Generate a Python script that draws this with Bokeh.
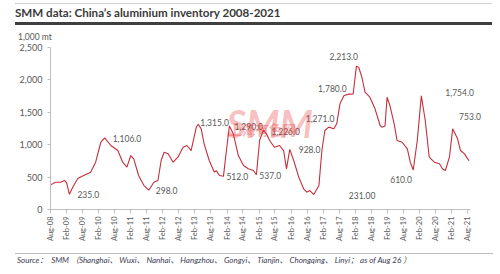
import pandas as pd
from bokeh.plotting import figure
from bokeh.models import (ColumnDataSource, Range1d, FixedTicker, NumeralTickFormatter,
                          Label, Div)
from bokeh.layouts import column
from bokeh.core.properties import value
from bokeh.embed import file_html
from bokeh.resources import INLINE

# China aluminium social inventory, 1,000 mt
dates = ["2008-08-01", "2008-09-28", "2008-11-25", "2009-01-10", "2009-02-01", "2009-03-04",
         "2009-04-10", "2009-06-07", "2009-08-13", "2009-11-01", "2009-12-28", "2010-02-25",
         "2010-04-10", "2010-06-19", "2010-09-07", "2010-11-01", "2010-12-19", "2011-02-01",
         "2011-03-07", "2011-05-01", "2011-07-01", "2011-08-25", "2011-10-22", "2011-12-07",
         "2012-01-13", "2012-02-16", "2012-04-01", "2012-05-28", "2012-07-22", "2012-09-19",
         "2012-11-01", "2012-12-19", "2013-02-16", "2013-03-10", "2013-04-13", "2013-05-16",
         "2013-07-13", "2013-09-10", "2013-10-01", "2013-11-07", "2013-12-22", "2014-01-25",
         "2014-02-28", "2014-04-13", "2014-06-10", "2014-08-07", "2014-10-01", "2014-11-28",
         "2015-01-01", "2015-02-07", "2015-03-22", "2015-04-25", "2015-06-01", "2015-07-25",
         "2015-09-22", "2015-11-07", "2015-12-10", "2016-01-16", "2016-03-01", "2016-04-28",
         "2016-06-22", "2016-07-28", "2016-09-01", "2016-10-16", "2016-12-13", "2017-01-16",
         "2017-02-19", "2017-04-04", "2017-06-01", "2017-07-04", "2017-08-10", "2017-09-25",
         "2017-11-22", "2018-01-07", "2018-02-13", "2018-03-13", "2018-04-16", "2018-05-22",
         "2018-07-16", "2018-09-13", "2018-11-10", "2018-12-01", "2019-01-05", "2019-01-28",
         "2019-03-01", "2019-04-19", "2019-05-22", "2019-07-19", "2019-09-16", "2019-10-19",
         "2019-11-22", "2020-01-07", "2020-02-22", "2020-04-07", "2020-05-22", "2020-07-19",
         "2020-09-16", "2020-10-19", "2020-11-22", "2021-01-07", "2021-02-13", "2021-04-10",
         "2021-05-13", "2021-06-28", "2021-07-25", "2021-08-19"]
inventory = [380, 420, 420, 447, 410, 235,
             340, 478, 525, 576, 730, 1038,
             1106, 988, 910, 730, 653, 833,
             782, 525, 370, 298, 421, 447,
             756, 884, 859, 730, 807, 961,
             988, 910, 1270, 1315, 1245, 1013,
             756, 576, 600, 525, 512, 910,
             1290, 1168, 833, 679, 628, 602,
             537, 1065, 1226, 1168, 1065, 961,
             988, 910, 628, 928, 756, 499,
             319, 267, 293, 231, 370, 910,
             1219, 1271, 1245, 1322, 1631, 1759,
             1780, 1785, 2213, 2190, 2041, 1810,
             1733, 1554, 1296, 1270, 1290, 1733,
             1605, 1322, 1065, 1038, 936, 730,
             610, 1065, 1754, 1373, 807, 730,
             705, 628, 602, 807, 1245, 1091,
             910, 859, 800, 753]

# Annotated turning points
label_dates = ["2010-04-10", "2009-03-04", "2011-08-25", "2013-03-10", "2014-02-28",
               "2015-03-22", "2013-12-22", "2015-01-01", "2016-01-16", "2016-10-16",
               "2017-04-04", "2017-11-22", "2018-02-13", "2019-11-22", "2020-02-22",
               "2021-08-19"]
label_decimals = [1, 1, 1, 1, 1, 1, 1, 1, 1, 2, 1, 1, 1, 1, 1, 1]

tick_labels = ["Aug-08", "Feb-09", "Aug-09", "Feb-10", "Aug-10", "Feb-11", "Aug-11", "Feb-12",
               "Aug-12", "Feb-13", "Aug-13", "Feb-14", "Aug-14", "Feb-15", "Aug-15", "Feb-16",
               "Aug-16", "Feb-17", "Aug-17", "Feb-18", "Aug-18", "Feb-19", "Aug-19", "Feb-20",
               "Aug-20", "Feb-21", "Aug-21"]
y_ticks = [0, 500, 1000, 1500, 2000, 2500]

# label placement (pixels relative to the annotated point)
label_dx = [8, 8, 7, 2, 5, 8, 3, 3, 9, 35, -23, -31, -27, -23, 24, -10]
label_dy = [1, 0, 0, -2, 1, 1, 0, 1, 0, 1, -9, -6, -10, 10, -3, -44]

FONT = "Lato"
GREY = "#595959"


def ms(d):
    return pd.Timestamp(d).value // 10**6


series = dict(zip(dates, inventory))
src = ColumnDataSource(dict(x=[pd.Timestamp(d) for d in dates], y=inventory))

lab_vals = [series[d] for d in label_dates]
lab_src = ColumnDataSource(dict(
    x=[pd.Timestamp(d) for d in label_dates],
    y=lab_vals,
    text=[f"{v:,.{n}f}" for v, n in zip(lab_vals, label_decimals)],
    dx=label_dx, dy=label_dy,
))

tick_ms = [ms(f"20{t[-2:]}-{'08' if t.startswith('Aug') else '02'}-01") for t in tick_labels]

# the axis line stops at early Sep-21; the frame continues a little further so
# the right-hand annotations are not clipped
x0, x_axis_end = ms("2008-08-01"), ms("2021-09-04")
x1 = x0 + (x_axis_end - x0) * 448 / 420

p = figure(width=500, height=210, x_axis_type="datetime",
           x_range=Range1d(x0, x1),
           y_range=Range1d(0, 2500),
           output_backend="svg", toolbar_location=None,
           min_border_left=50, min_border_right=2, min_border_top=5, min_border_bottom=43,
           background_fill_color="white", border_fill_color="white")
p.outline_line_color = None
p.grid.visible = False

# watermark logo
p.add_layout(Label(x=176, y=87, x_units="screen", y_units="screen", text="SMM",
                   text_font=FONT, text_font_size="38px", text_font_style="bold italic",
                   text_color="#e83a3a", text_alpha=0.33, text_baseline="alphabetic"))
p.add_layout(Label(x=178, y=81, x_units="screen", y_units="screen", text="上海有色网",
                   text_font="Noto Sans CJK SC", text_font_size="13.5px", text_font_style="bold",
                   text_color="#e83a3a", text_alpha=0.4, text_baseline="middle"))

p.line("x", "y", source=src, line_color="#c42f3c", line_width=1.1)

p.text("x", "y", text="text", x_offset="dx", y_offset="dy", source=lab_src,
       text_font=value(FONT), text_font_size="8.5px", text_color=GREY,
       text_align="left", text_baseline="middle")

xa = p.xaxis[0]
xa.bounds = (x0, x_axis_end)
xa.ticker = FixedTicker(ticks=tick_ms)
xa.major_label_overrides = {t: lab for t, lab in zip(tick_ms, tick_labels)}
xa.major_label_orientation = 3.14159265 / 2
xa.minor_tick_line_color = None
xa.major_tick_in = 0
xa.major_tick_out = 4
xa.axis_line_color = "#bfbfbf"
xa.major_tick_line_color = "#bfbfbf"
xa.major_label_text_font = FONT
xa.major_label_text_font_size = "7.5px"
xa.major_label_text_color = GREY
xa.major_label_standoff = 3

ya = p.yaxis[0]
ya.ticker = FixedTicker(ticks=y_ticks)
ya.formatter = NumeralTickFormatter(format="0,0")
ya.minor_tick_line_color = None
ya.major_tick_in = 0
ya.major_tick_out = 3
ya.axis_line_color = "#bfbfbf"
ya.major_tick_line_color = "#bfbfbf"
ya.major_label_text_font = FONT
ya.major_label_text_font_size = "9px"
ya.major_label_text_color = GREY
ya.major_label_standoff = 5

title_html = (
    '<div style="position:absolute;left:15px;top:3px;width:477px;border-top:1px solid #cfcfcf"></div>'
    '<div style="position:absolute;left:15px;top:5px;font-family:Lato;font-weight:bold;'
    'font-size:11.6px;color:#3a3a3a;white-space:nowrap">'
    'SMM data: China\u2019s aluminium inventory 2008-2021</div>'
    '<div style="position:absolute;left:15px;top:22px;width:477px;height:3px;background:#3f3f3f"></div>'
    '<div style="position:absolute;left:18px;top:31px;font-family:Lato;font-size:8.5px;'
    'color:#595959;white-space:nowrap">1,000 mt</div>'
)
source_html = (
    '<div style="position:absolute;left:15px;top:1px;width:478px;border-top:1px solid #bdbdbd"></div>'
    '<div style="position:absolute;left:17px;top:3px;font-family:Lato,\'Noto Sans CJK SC\';'
    'font-style:italic;font-size:8px;color:#3d3d55;white-space:nowrap">'
    'Source\uff1a&nbsp; SMM \uff08Shanghai\u3001 Wuxi\u3001 Nanhai\u3001 Hangzhou\u3001 Gongyi\u3001 '
    'Tianjin\u3001 Chongqing\u3001 Linyi\uff1b as of Aug 26 \uff09</div>'
)
title_div = Div(text=title_html, width=500, height=42, margin=0,
                styles={"position": "relative"})
source_div = Div(text=source_html, width=500, height=22, margin=0,
                 styles={"position": "relative"})
p.margin = 0

layout = column(title_div, p, source_div, spacing=0, margin=0)
open("out.html", "w").write(file_html(layout, INLINE))
